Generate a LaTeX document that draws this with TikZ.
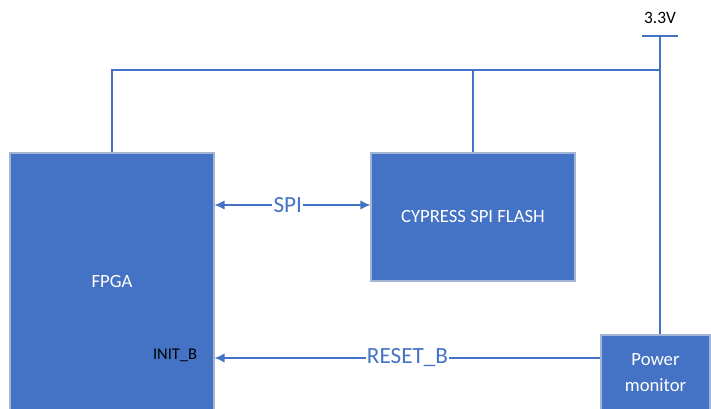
\documentclass[tikz,border=0pt]{standalone}
\usepackage{fontspec}
\setmainfont{Carlito}
\usepackage{tikz}
\usetikzlibrary{positioning,arrows.meta}
\definecolor{accent}{HTML}{4472C4}
\definecolor{edge}{HTML}{A3B4D4}
\begin{document}
\begin{tikzpicture}[x=0.75pt,y=-0.75pt,
box/.style={draw=edge,line width=0.8pt,fill=accent,text=white,align=center,inner sep=0pt,font=\fontsize{14}{16}\selectfont},
wire/.style={draw=accent,line width=1.1pt},
arrow/.style={wire,-{Latex[length=7.5pt,width=7pt]}},
sig/.style={fill=white,text=accent,inner sep=1pt,font=\fontsize{17.4}{20}\selectfont}]
\useasboundingbox (0,0) rectangle (711,408);
\node[box,minimum width=204*0.75pt,minimum height=257*0.75pt](fpga) at (112,281.5){FPGA};
\node[box,minimum width=204*0.75pt,minimum height=128*0.75pt](flash) at (473,217){CYPRESS SPI FLASH};
\node[box,minimum width=109*0.75pt,minimum height=75*0.75pt,font=\fontsize{14}{20}\selectfont](pm) at (655.5,372.5){Power\\monitor};
\node[font=\fontsize{12.3}{14}\selectfont](initb) at (175,355){INIT\_B};
\coordinate (vcc) at (660,36);
\coordinate (tap) at (660,70);
\node[above=8*0.75pt of vcc,font=\fontsize{13}{15}\selectfont](vlabel){3.3V};
\draw[wire] ([xshift=-18*0.75pt]vcc) -- ([xshift=18*0.75pt]vcc);
\draw[wire] (vcc) -- (vcc |- pm.north);
\draw[wire] (fpga.north) |- (tap);
\draw[wire] (flash.north) -- (flash.north |- tap);
\draw[arrow,{Latex[length=7.5pt,width=7pt]}-{Latex[length=7.5pt,width=7pt]}] (fpga.east |- 0,205) -- node[sig,pos=0.47]{SPI} (flash.west |- 0,205);
\draw[arrow] (pm.west |- 0,358) -- node[sig]{RESET\_B} (fpga.east |- 0,358);
\end{tikzpicture}
\end{document}
